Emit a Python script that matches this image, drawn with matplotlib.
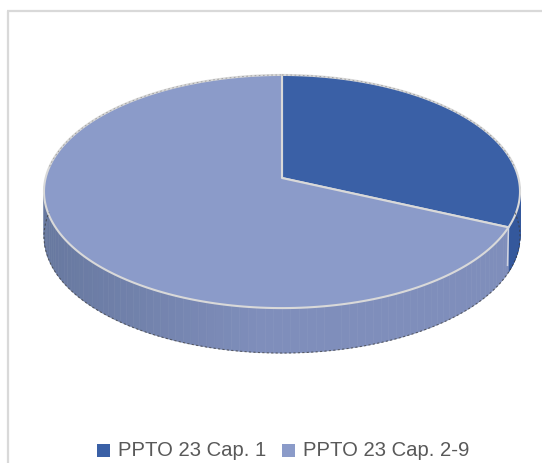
#! /usr/bin/env python
# -*- coding: utf-8 -*-

import numpy as np
import matplotlib
matplotlib.use('Agg')
from matplotlib import pyplot as plt
from matplotlib.patches import Polygon, Rectangle

labels = ['PPTO 23 Cap. 1', 'PPTO 23 Cap. 2-9']
values = [31.7, 68.3]
colors = ['#3a60a6', '#8b9bc9']
rim_dark = ['#34589c', '#67789f']
rim_light = ['#34589c', '#7f8ebb']

W, H = 542, 463
CX, CY = 282, 178
A, B, K = 236.4, 115, 0.116
DEPTH = 45


def project(theta, r=1.0):
    # theta is clockwise from 12 o'clock, circle seen in perspective
    u = r * np.sin(theta)
    v = r * np.cos(theta)
    s = 1 + K * v
    return CX + A * u / s, CY - B * v / s


def mix(c0, c1, t):
    a = np.array(matplotlib.colors.to_rgb(c0))
    b = np.array(matplotlib.colors.to_rgb(c1))
    return tuple(a + (b - a) * t)


fig = plt.figure(figsize=(W / 100, H / 100), dpi=100)
ax = fig.add_axes([0, 0, 1, 1])
ax.set_xlim(0, W)
ax.set_ylim(H, 0)
ax.axis('off')

# chart frame, only top and left are in the crop
ax.plot([7.5, 7.5], [H, 10.5], color='#d9d9d9', lw=1.6, solid_capstyle='butt')
ax.plot([7, W], [10.5, 10.5], color='#d9d9d9', lw=1.6, solid_capstyle='butt')

edges = np.cumsum([0] + values) / sum(values) * 2 * np.pi

# rim, drawn as small strips for the shading
for i in range(len(values)):
    t0 = max(edges[i], np.pi / 2 - 0.12)
    t1 = min(edges[i + 1], 3 * np.pi / 2 + 0.12)
    ts = np.linspace(t0, t1, 90)
    for a, b in zip(ts[:-1], ts[1:]):
        xa, ya = project(a)
        xb, yb = project(b)
        f = np.clip((xa - 44) / 220.0, 0, 1) if i == 1 else 0.5
        c = mix(rim_dark[i], rim_light[i], f)
        ax.add_patch(Polygon([(xa, ya), (xb, yb), (xb, yb + DEPTH), (xa, ya + DEPTH)],
                             closed=True, fc=c, ec=c, lw=0.4))

# dark jagged outline around the disc, mostly visible low down
ts = np.linspace(0, 2 * np.pi, 600)
ox, oy = project(ts)
low = np.abs(ts - np.pi) < np.pi / 2 + 0.1
ax.plot(ox, np.where(low, oy + DEPTH, np.nan), color='#3c3c3c', lw=0.8,
        ls=(0, (2, 2)), alpha=0.7)
ax.plot(ox, np.where(low, np.nan, oy), color='#5a5a5a', lw=0.6,
        ls=(0, (2, 3)), alpha=0.5)

# top faces of the slices
for i in range(len(values)):
    ts = np.linspace(edges[i], edges[i + 1], 200)
    x, y = project(ts)
    pts = [(CX, CY)] + list(zip(x, y))
    ax.add_patch(Polygon(pts, closed=True, fc=colors[i], ec='#d9d9d9', lw=1.5,
                         joinstyle='round'))

# cut face line between the rim pieces
xe, ye = project(edges[1])
ax.plot([xe, xe - 1], [ye, ye + DEPTH - 7], color='#cfd3e0', lw=1.1)

# legend
y_leg = 450
for x0, x_txt, lab, col in zip([97, 282], [118, 303], labels, colors):
    ax.add_patch(Rectangle((x0, y_leg - 6.5), 13, 13, fc=col, ec='none'))
    ax.text(x_txt, y_leg, lab, family='Liberation Sans', fontsize=14.6,
            color='#595959', ha='left', va='center')

plt.savefig('out.png', dpi=100)
